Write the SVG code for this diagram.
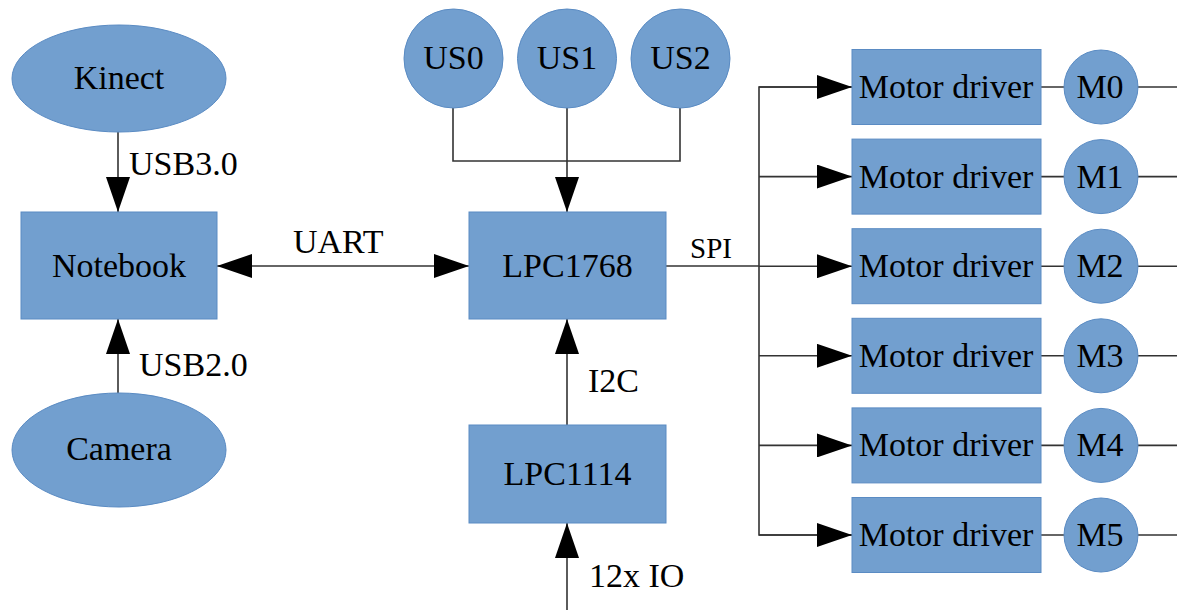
<svg xmlns="http://www.w3.org/2000/svg" width="1177" height="610" viewBox="0 0 1177 610">
<defs>
<marker id="arr" viewBox="0 0 35 24" refX="35" refY="12" markerWidth="35" markerHeight="24" markerUnits="userSpaceOnUse" orient="auto-start-reverse">
<path d="M0,0 L35,12 L0,24 Z" fill="#000"/>
</marker>
</defs>
<style>
.n{fill:#729fcf;stroke:#5a8bc3;stroke-width:1}
.t{font-family:"Liberation Serif","Times New Roman",serif;font-size:34px;fill:#000;text-anchor:middle}
.l{font-family:"Liberation Serif","Times New Roman",serif;font-size:34px;fill:#000}
.c{fill:none;stroke:#333;stroke-width:1.6}
</style>
<rect width="1177" height="610" fill="#fff"/>
<g id="connectors">
<line class="c" x1="118" y1="132" x2="118" y2="212" marker-end="url(#arr)"/>
<line class="c" x1="118" y1="393" x2="118" y2="319" marker-end="url(#arr)"/>
<line class="c" x1="217" y1="266" x2="469" y2="266" marker-start="url(#arr)" marker-end="url(#arr)"/>
<polyline class="c" points="453,108 453,161 680,161 680,108"/>
<line class="c" x1="567" y1="108" x2="567" y2="212" marker-end="url(#arr)"/>
<line class="c" x1="567" y1="425" x2="567" y2="319" marker-end="url(#arr)"/>
<line class="c" x1="567" y1="610" x2="567" y2="523" marker-end="url(#arr)"/>
<line class="c" x1="666" y1="266" x2="759" y2="266"/>
<polyline class="c" points="852,87 759,87 759,535 852,535"/>
<line class="c" x1="759" y1="87" x2="852" y2="87" marker-end="url(#arr)"/>
<line class="c" x1="759" y1="176.6" x2="852" y2="176.6" marker-end="url(#arr)"/>
<line class="c" x1="759" y1="266.2" x2="852" y2="266.2" marker-end="url(#arr)"/>
<line class="c" x1="759" y1="355.8" x2="852" y2="355.8" marker-end="url(#arr)"/>
<line class="c" x1="759" y1="445.4" x2="852" y2="445.4" marker-end="url(#arr)"/>
<line class="c" x1="759" y1="535" x2="852" y2="535" marker-end="url(#arr)"/>
<line class="c" x1="1041" y1="87" x2="1177" y2="87"/>
<line class="c" x1="1041" y1="176.6" x2="1177" y2="176.6"/>
<line class="c" x1="1041" y1="266.2" x2="1177" y2="266.2"/>
<line class="c" x1="1041" y1="355.8" x2="1177" y2="355.8"/>
<line class="c" x1="1041" y1="445.4" x2="1177" y2="445.4"/>
<line class="c" x1="1041" y1="535" x2="1177" y2="535"/>
<text class="l" x="129" y="175">USB3.0</text>
<text class="l" x="139" y="376">USB2.0</text>
<text class="l" x="293" y="253">UART</text>
<text class="l" x="588" y="392">I2C</text>
<text class="l" x="589" y="587">12x IO</text>
<text class="l" x="690" y="258" style="font-size:29px">SPI</text>
</g>
<g id="kinect"><ellipse class="n" cx="119" cy="78.5" rx="107" ry="53.5"/><text class="t" x="119" y="89">Kinect</text></g>
<g id="notebook"><rect class="n" x="21" y="212" width="196" height="107"/><text class="t" x="119" y="277">Notebook</text></g>
<g id="camera"><ellipse class="n" cx="119" cy="450" rx="107" ry="57"/><text class="t" x="119" y="460">Camera</text></g>
<g id="us0"><circle class="n" cx="453.5" cy="58.5" r="49.5"/><text class="t" x="453.5" y="69">US0</text></g>
<g id="us1"><circle class="n" cx="567" cy="58.5" r="49.5"/><text class="t" x="567" y="69">US1</text></g>
<g id="us2"><circle class="n" cx="680.5" cy="58.5" r="49.5"/><text class="t" x="680.5" y="69">US2</text></g>
<g id="lpc1768"><rect class="n" x="469" y="212" width="197" height="107"/><text class="t" x="567.5" y="277">LPC1768</text></g>
<g id="lpc1114"><rect class="n" x="469" y="425" width="197" height="98"/><text class="t" x="567.5" y="485">LPC1114</text></g>
<g id="md0"><rect class="n" x="852" y="49.5" width="189" height="75"/><text class="t" x="946" y="98">Motor driver</text></g>
<g id="md1"><rect class="n" x="852" y="139.1" width="189" height="75"/><text class="t" x="946" y="187.6">Motor driver</text></g>
<g id="md2"><rect class="n" x="852" y="228.7" width="189" height="75"/><text class="t" x="946" y="277.2">Motor driver</text></g>
<g id="md3"><rect class="n" x="852" y="318.3" width="189" height="75"/><text class="t" x="946" y="366.8">Motor driver</text></g>
<g id="md4"><rect class="n" x="852" y="407.9" width="189" height="75"/><text class="t" x="946" y="456.4">Motor driver</text></g>
<g id="md5"><rect class="n" x="852" y="497.5" width="189" height="75"/><text class="t" x="946" y="546">Motor driver</text></g>
<g id="m0"><circle class="n" cx="1101" cy="87" r="37"/><text class="t" x="1100" y="98">M0</text></g>
<g id="m1"><circle class="n" cx="1101" cy="176.6" r="37"/><text class="t" x="1100" y="187.6">M1</text></g>
<g id="m2"><circle class="n" cx="1101" cy="266.2" r="37"/><text class="t" x="1100" y="277.2">M2</text></g>
<g id="m3"><circle class="n" cx="1101" cy="355.8" r="37"/><text class="t" x="1100" y="366.8">M3</text></g>
<g id="m4"><circle class="n" cx="1101" cy="445.4" r="37"/><text class="t" x="1100" y="456.4">M4</text></g>
<g id="m5"><circle class="n" cx="1101" cy="535" r="37"/><text class="t" x="1100" y="546">M5</text></g>
</svg>
